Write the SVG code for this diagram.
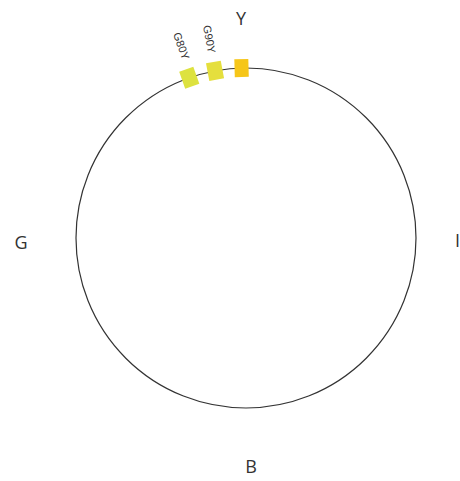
<svg xmlns="http://www.w3.org/2000/svg" width="460" height="481" viewBox="0 0 460 481">
<style>
.lbl{font-family:"Open Sans","Liberation Sans",sans-serif;font-size:18px;fill:#333;}
.sm{font-family:"Liberation Sans","Open Sans",sans-serif;font-size:11px;fill:#333;}
.ring{fill:none;stroke:#333;stroke-width:1.2;}
</style>
<rect width="460" height="481" fill="#fff"/>
<g id="wheel"><circle class="ring" cx="246" cy="238" r="170"/></g>
<g id="connectors"></g>
<g id="Y-swatch"><rect x="-7" y="-179" width="14" height="18" fill="#f6c619" transform="translate(246 238) rotate(-1.5)"/></g>
<g id="G90Y"><rect x="-7.5" y="-179" width="15" height="18" fill="#e5df3d" transform="translate(246 238) rotate(-10.5)"/>
<text class="sm" transform="translate(203 26) rotate(79.5)">G90Y</text></g>
<g id="G80Y"><rect x="-7.5" y="-179" width="15" height="18" fill="#dde23f" transform="translate(246 238) rotate(-19.5)"/>
<text class="sm" transform="translate(173 34) rotate(70.5)">G80Y</text></g>
<g id="Y"><text class="lbl" x="241" y="25" text-anchor="middle">Y</text></g>
<g id="G"><text class="lbl" x="21" y="249" text-anchor="middle">G</text></g>
<g id="I"><text class="lbl" x="455" y="247">I</text></g>
<g id="B"><text class="lbl" x="251" y="473" text-anchor="middle">B</text></g>
</svg>
